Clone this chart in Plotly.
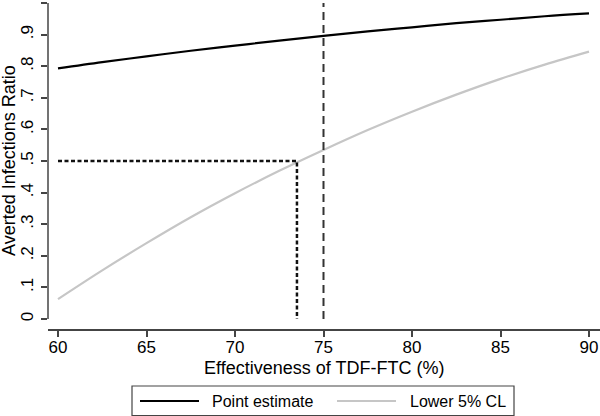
import plotly.graph_objects as go

# ---- data ----
effectiveness = [60, 62.5, 65, 67.5, 70, 72.5, 75, 77.5, 80, 82.5, 85, 87.5, 90]
point_estimate = [0.793, 0.813, 0.831, 0.849, 0.865, 0.881, 0.896, 0.910, 0.923, 0.936, 0.947, 0.958, 0.967]
lower_5_cl = [0.063, 0.154, 0.240, 0.322, 0.398, 0.469, 0.535, 0.598, 0.656, 0.710, 0.760, 0.805, 0.846]
series_names = ["Point estimate", "Lower 5% CL"]

ref_effectiveness = 75        # dashed vertical reference
target_ratio = 0.5            # dotted horizontal reference
crossing_effectiveness = 73.5 # where lower CL reaches target

x_ticks = [60, 65, 70, 75, 80, 85, 90]
y_ticks = [0, 0.1, 0.2, 0.3, 0.4, 0.5, 0.6, 0.7, 0.8, 0.9, 1.0]
y_tick_text = ["0", ".1", ".2", ".3", ".4", ".5", ".6", ".7", ".8", ".9", "1"]

# ---- layout geometry (pixels) ----
W, H = 600, 416
L, R, T, B = 48, 0, 3, 87
PW, PH = W - L - R, H - T - B
AXIS_COL = "#444444"
FONT = "Liberation Sans"

def px_x(p):
    return (p - L) / PW

def px_y(p):
    return (H - B - p) / PH

fig = go.Figure()
fig.add_trace(go.Scatter(x=effectiveness, y=point_estimate, mode="lines",
                         line=dict(color="#000000", width=2.2, shape="spline"),
                         name=series_names[0], showlegend=False))
fig.add_trace(go.Scatter(x=effectiveness, y=lower_5_cl, mode="lines",
                         line=dict(color="#c6c6c6", width=2.2, shape="spline"),
                         name=series_names[1], showlegend=False))

# reference lines
fig.add_trace(go.Scatter(x=[ref_effectiveness, ref_effectiveness], y=[0, 1], mode="lines",
                         line=dict(color="#333333", width=2, dash="8px,5px"),
                         showlegend=False, hoverinfo="skip"))
fig.add_trace(go.Scatter(x=[effectiveness[0], crossing_effectiveness, crossing_effectiveness],
                         y=[target_ratio, target_ratio, 0], mode="lines",
                         line=dict(color="#111111", width=2.5, dash="4px,2.5px"),
                         showlegend=False, hoverinfo="skip"))

shapes = []
# y axis line only spanning 0..1 (Stata style)
shapes.append(dict(type="line", xref="paper", yref="y", x0=0, x1=0, y0=0, y1=1,
                   line=dict(color=AXIS_COL, width=1.5)))
# manual legend
shapes.append(dict(type="rect", xref="paper", yref="paper",
                   x0=px_x(132), x1=px_x(514), y0=px_y(415.5), y1=px_y(386),
                   line=dict(color=AXIS_COL, width=1.2), fillcolor="white"))
shapes.append(dict(type="line", xref="paper", yref="paper",
                   x0=px_x(140), x1=px_x(199), y0=px_y(401), y1=px_y(401),
                   line=dict(color="#000000", width=2.2)))
shapes.append(dict(type="line", xref="paper", yref="paper",
                   x0=px_x(337), x1=px_x(396), y0=px_y(401), y1=px_y(401),
                   line=dict(color="#c6c6c6", width=2.2)))

annotations = [
    dict(text=series_names[0], xref="paper", yref="paper", x=px_x(210), y=px_y(401),
         xanchor="left", yanchor="middle", showarrow=False,
         font=dict(family=FONT, size=16, color="black")),
    dict(text=series_names[1], xref="paper", yref="paper", x=px_x(408), y=px_y(401),
         xanchor="left", yanchor="middle", showarrow=False,
         font=dict(family=FONT, size=16, color="black")),
    dict(text="Effectiveness of TDF-FTC (%)", xref="x", yref="paper", x=75, y=px_y(368),
         xanchor="center", yanchor="middle", showarrow=False,
         font=dict(family=FONT, size=18, color="black")),
    dict(text="Averted Infections Ratio", xref="paper", yref="y", x=0, y=0.5,
         xshift=9 - L, xanchor="center", yanchor="middle", textangle=-90, showarrow=False,
         font=dict(family=FONT, size=18, color="black")),
]

x_lo = 60 - 10 / 17.7
x_hi = x_lo + PW / 17.7
y_lo = -10 / 316
y_hi = y_lo + PH / 316

fig.update_layout(
    width=W, height=H,
    margin=dict(l=L, r=R, t=T, b=B, pad=0),
    paper_bgcolor="white", plot_bgcolor="white",
    font=dict(family=FONT, color="black"),
    showlegend=False,
    shapes=shapes, annotations=annotations,
    xaxis=dict(range=[x_lo, x_hi], tickvals=x_ticks, showgrid=False, zeroline=False,
               showline=True, linecolor=AXIS_COL, linewidth=1.5,
               ticks="outside", ticklen=6, tickwidth=1.5, tickcolor=AXIS_COL,
               tickfont=dict(family=FONT, size=17, color="black"),
               ticklabelstandoff=-4),
    yaxis=dict(range=[y_lo, y_hi], tickvals=y_ticks, ticktext=y_tick_text,
               showgrid=False, zeroline=False, showline=False,
               ticks="outside", ticklen=6, tickwidth=1.5, tickcolor=AXIS_COL,
               tickangle=-90, tickfont=dict(family=FONT, size=17, color="black"),
               ticklabelstandoff=1),
)

fig.write_html("out.html", config={"displayModeBar": False},
               post_script="document.body.style.margin='0';document.body.style.overflow='hidden';")
